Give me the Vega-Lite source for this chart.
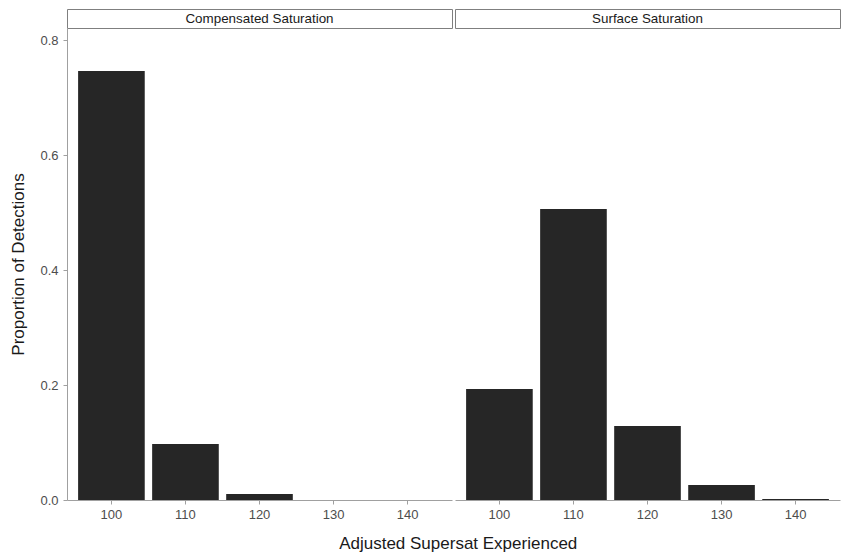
{
  "$schema": "https://vega.github.io/schema/vega-lite/v6.json",
  "background": "white",
  "padding": {"left": 9, "top": 8, "right": 2, "bottom": 2},
  "config": {
    "font": "Liberation Sans",
    "view": {"stroke": null},
    "axis": {
      "grid": false,
      "domainColor": "#a0a0a0",
      "tickColor": "#a0a0a0",
      "tickSize": 4,
      "labelColor": "#4d4d4d",
      "labelFontSize": 13,
      "titleColor": "#1a1a1a",
      "titleFontSize": 17,
      "titleFontWeight": "normal"
    }
  },
  "datasets": {
    "bars": [
      {"panel": "Compensated Saturation", "supersat": "100", "prop": 0.746},
      {"panel": "Compensated Saturation", "supersat": "110", "prop": 0.0974},
      {"panel": "Compensated Saturation", "supersat": "120", "prop": 0.0104},
      {"panel": "Compensated Saturation", "supersat": "130", "prop": 0},
      {"panel": "Compensated Saturation", "supersat": "140", "prop": 0},
      {"panel": "Surface Saturation", "supersat": "100", "prop": 0.193},
      {"panel": "Surface Saturation", "supersat": "110", "prop": 0.506},
      {"panel": "Surface Saturation", "supersat": "120", "prop": 0.1287},
      {"panel": "Surface Saturation", "supersat": "130", "prop": 0.0261},
      {"panel": "Surface Saturation", "supersat": "140", "prop": 0.0017}
    ],
    "strips": [
      {"panel": "Compensated Saturation"},
      {"panel": "Surface Saturation"}
    ]
  },
  "title": {
    "text": "Adjusted Supersat Experienced",
    "orient": "bottom",
    "anchor": "middle",
    "fontSize": 17,
    "fontWeight": "normal",
    "color": "#1a1a1a",
    "dx": 33,
    "offset": 15
  },
  "spacing": 1,
  "hconcat": [
    {
      "spacing": 0,
      "bounds": "flush",
      "vconcat": [
        {
          "width": 385,
          "height": 19,
          "view": {"stroke": "#7f7f7f", "fill": "white"},
          "data": {"name": "strips"},
          "transform": [{"filter": "datum.panel == 'Compensated Saturation'"}],
          "mark": {"type": "text", "fontSize": 13.4, "color": "#1a1a1a"},
          "encoding": {"text": {"field": "panel", "type": "nominal"}}
        },
        {
          "width": 385,
          "height": 472,
          "data": {"name": "bars"},
          "transform": [{"filter": "datum.panel == 'Compensated Saturation'"}],
          "mark": {"type": "bar", "color": "#262626"},
          "encoding": {
            "x": {
              "field": "supersat",
              "type": "ordinal",
              "scale": {"paddingInner": 0.1, "paddingOuter": 0.15},
              "axis": {"title": null, "labelAngle": 0, "labelPadding": 4}
            },
            "y": {
              "field": "prop",
              "type": "quantitative",
              "scale": {"domain": [0, 0.821], "nice": false},
              "axis": {
                "title": "Proportion of Detections",
                "values": [0, 0.2, 0.4, 0.6, 0.8],
                "format": ".1f",
                "labelPadding": 5,
                "titlePadding": 12
              }
            }
          }
        }
      ]
    },
    {
      "spacing": 0,
      "bounds": "flush",
      "vconcat": [
        {
          "width": 385,
          "height": 19,
          "view": {"stroke": "#7f7f7f", "fill": "white"},
          "data": {"name": "strips"},
          "transform": [{"filter": "datum.panel == 'Surface Saturation'"}],
          "mark": {"type": "text", "fontSize": 13.4, "color": "#1a1a1a"},
          "encoding": {"text": {"field": "panel", "type": "nominal"}}
        },
        {
          "width": 385,
          "height": 472,
          "data": {"name": "bars"},
          "transform": [{"filter": "datum.panel == 'Surface Saturation'"}],
          "mark": {"type": "bar", "color": "#262626"},
          "encoding": {
            "x": {
              "field": "supersat",
              "type": "ordinal",
              "scale": {"paddingInner": 0.1, "paddingOuter": 0.15},
              "axis": {"title": null, "labelAngle": 0, "labelPadding": 4}
            },
            "y": {
              "field": "prop",
              "type": "quantitative",
              "scale": {"domain": [0, 0.821], "nice": false},
              "axis": null
            }
          }
        }
      ]
    }
  ]
}
